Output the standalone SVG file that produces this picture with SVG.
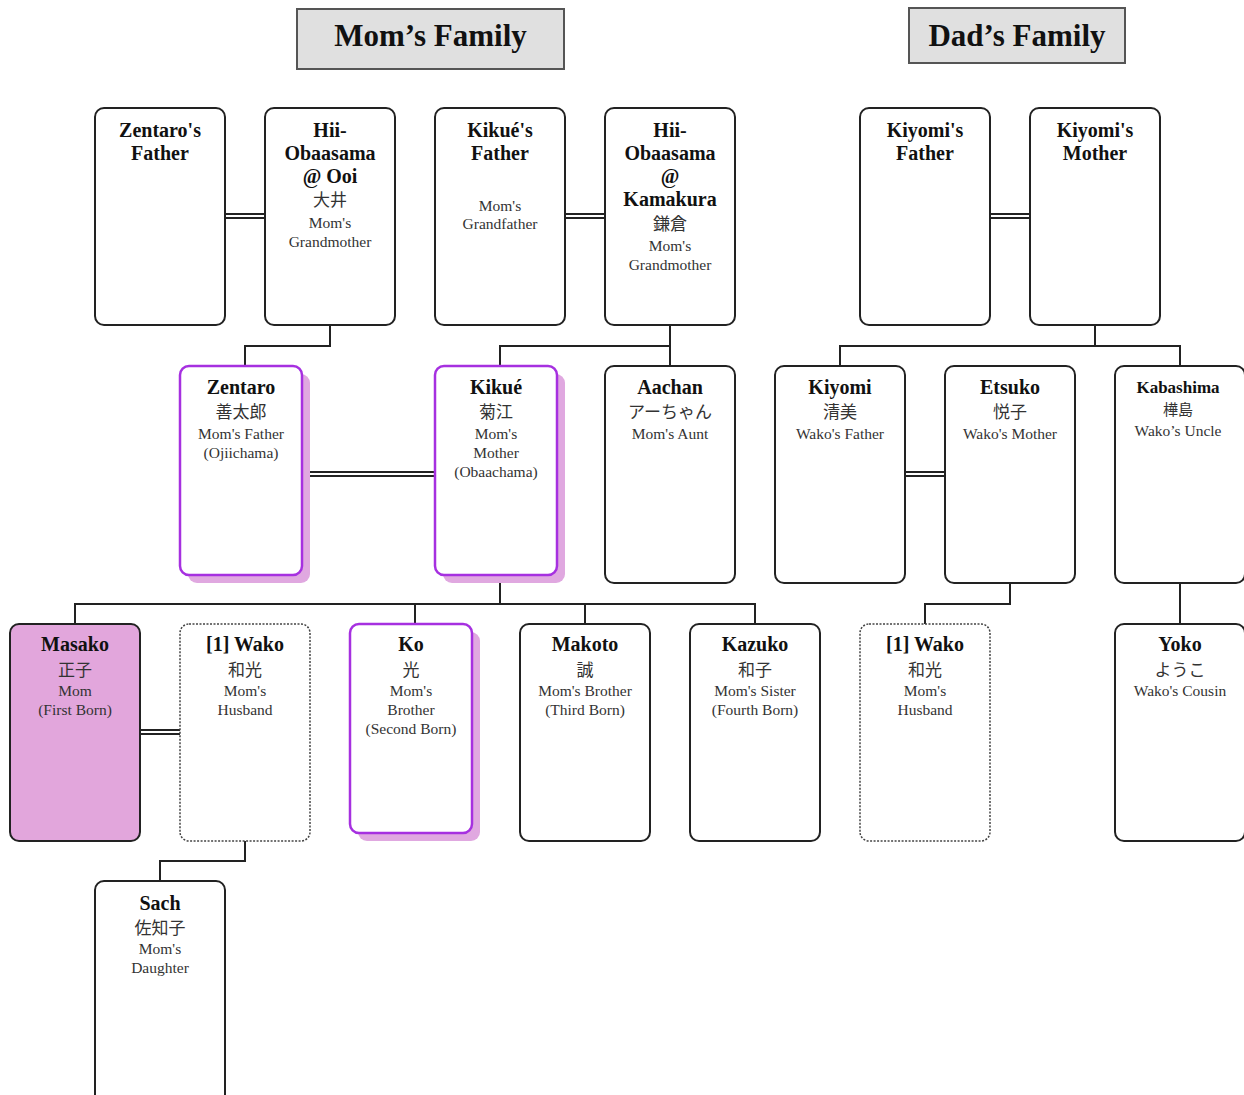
<svg xmlns="http://www.w3.org/2000/svg" width="1244" height="1095" viewBox="0 0 1244 1095">
<style>
.title{fill:#e0e0e0;stroke:#555;stroke-width:2}
.tt{font-family:"Liberation Serif","Noto Sans CJK JP",serif;font-weight:bold;font-size:31px;fill:#111;text-anchor:middle}
.box{fill:#fff;stroke:#222;stroke-width:2}
.dot{fill:#fff;stroke:#444;stroke-width:1.5;stroke-dasharray:2 1.5}
.pur{fill:#fff;stroke:#a630e0;stroke-width:2.5}
.sh{fill:#e0a8e0}
.mas{fill:#e2a6dc;stroke:#222;stroke-width:2}
.n{font-family:"Liberation Serif","Noto Sans CJK JP",serif;font-weight:bold;font-size:20px;fill:#111;text-anchor:middle}
.k{font-family:"Noto Sans CJK JP",serif;font-size:17px;fill:#333;text-anchor:middle}
.s{font-family:"Liberation Serif","Noto Sans CJK JP",serif;font-size:15.5px;fill:#333;text-anchor:middle}
.ln{fill:none;stroke:#222;stroke-width:2}
.dbl{fill:none;stroke:#222;stroke-width:6}
.dbw{fill:none;stroke:#fff;stroke-width:2}
</style>
<g id="connectors">
<path class="ln" d="M330 325V346H245V366"/>
<path class="ln" d="M670 325V366M670 346H500V366"/>
<path class="ln" d="M500 575V604M75 624V604H755V624M415 604V624M585 604V624"/>
<path class="ln" d="M245 841V861H160V881"/>
<path class="ln" d="M1095 325V346M840 366V346H1180V366"/>
<path class="ln" d="M1010 583V604H925V624"/>
<path class="ln" d="M1180 583V624"/>
<path class="dbl" d="M225 216H265M565 216H605M990 216H1030M310 474H436M905 474H945M140 732H180"/>
<path class="dbw" d="M225 216H265M565 216H605M990 216H1030M310 474H436M905 474H945M140 732H180"/>
</g>
<g id="title-mom"><rect class="title" x="297" y="9" width="267" height="60"/><text class="tt" x="430.5" y="46">Mom’s Family</text></g>
<g id="title-dad"><rect class="title" x="909" y="8" width="216" height="55"/><text class="tt" x="1017" y="46">Dad’s Family</text></g>

<g id="zentaros-father"><rect class="box" x="95" y="108" width="130" height="217" rx="9"/>
<text class="n" x="160" y="137">Zentaro's</text><text class="n" x="160" y="160">Father</text></g>
<g id="hii-ooi"><rect class="box" x="265" y="108" width="130" height="217" rx="9"/>
<text class="n" x="330" y="137">Hii-</text><text class="n" x="330" y="160">Obaasama</text><text class="n" x="330" y="183">@ Ooi</text>
<text class="k" x="330" y="206">大井</text><text class="s" x="330" y="228">Mom's</text><text class="s" x="330" y="247">Grandmother</text></g>
<g id="kikues-father"><rect class="box" x="435" y="108" width="130" height="217" rx="9"/>
<text class="n" x="500" y="137">Kikué's</text><text class="n" x="500" y="160">Father</text>
<text class="s" x="500" y="211">Mom's</text><text class="s" x="500" y="229">Grandfather</text></g>
<g id="hii-kamakura"><rect class="box" x="605" y="108" width="130" height="217" rx="9"/>
<text class="n" x="670" y="137">Hii-</text><text class="n" x="670" y="160">Obaasama</text><text class="n" x="670" y="183">@</text><text class="n" x="670" y="206">Kamakura</text>
<text class="k" x="670" y="230">鎌倉</text><text class="s" x="670" y="251">Mom's</text><text class="s" x="670" y="270">Grandmother</text></g>
<g id="kiyomis-father"><rect class="box" x="860" y="108" width="130" height="217" rx="9"/>
<text class="n" x="925" y="137">Kiyomi's</text><text class="n" x="925" y="160">Father</text></g>
<g id="kiyomis-mother"><rect class="box" x="1030" y="108" width="130" height="217" rx="9"/>
<text class="n" x="1095" y="137">Kiyomi's</text><text class="n" x="1095" y="160">Mother</text></g>

<g id="zentaro"><rect class="sh" x="188" y="374" width="122" height="209" rx="9"/><rect class="pur" x="180" y="366" width="122" height="209" rx="9"/>
<text class="n" x="241" y="394">Zentaro</text><text class="k" x="241" y="418">善太郎</text><text class="s" x="241" y="439">Mom's Father</text><text class="s" x="241" y="458">(Ojiichama)</text></g>
<g id="kikue"><rect class="sh" x="443" y="374" width="122" height="209" rx="9"/><rect class="pur" x="435" y="366" width="122" height="209" rx="9"/>
<text class="n" x="496" y="394">Kikué</text><text class="k" x="496" y="418">菊江</text><text class="s" x="496" y="439">Mom's</text><text class="s" x="496" y="458">Mother</text><text class="s" x="496" y="477">(Obaachama)</text></g>
<g id="aachan"><rect class="box" x="605" y="366" width="130" height="217" rx="9"/>
<text class="n" x="670" y="394">Aachan</text><text class="k" x="670" y="418">アーちゃん</text><text class="s" x="670" y="439">Mom's Aunt</text></g>
<g id="kiyomi"><rect class="box" x="775" y="366" width="130" height="217" rx="9"/>
<text class="n" x="840" y="394">Kiyomi</text><text class="k" x="840" y="418">清美</text><text class="s" x="840" y="439">Wako's Father</text></g>
<g id="etsuko"><rect class="box" x="945" y="366" width="130" height="217" rx="9"/>
<text class="n" x="1010" y="394">Etsuko</text><text class="k" x="1010" y="418">悦子</text><text class="s" x="1010" y="439">Wako's Mother</text></g>
<g id="kabashima"><rect class="box" x="1115" y="366" width="130" height="217" rx="9"/>
<text class="n" x="1178" y="393" style="font-size:17px">Kabashima</text><text class="k" x="1178" y="415" style="font-size:15px">樺島</text><text class="s" x="1178" y="436">Wako’s Uncle</text></g>

<g id="masako"><rect class="mas" x="10" y="624" width="130" height="217" rx="9"/>
<text class="n" x="75" y="651">Masako</text><text class="k" x="75" y="676">正子</text><text class="s" x="75" y="696">Mom</text><text class="s" x="75" y="715">(First Born)</text></g>
<g id="wako-mom"><rect class="dot" x="180" y="624" width="130" height="217" rx="9"/>
<text class="n" x="245" y="651">[1] Wako</text><text class="k" x="245" y="676">和光</text><text class="s" x="245" y="696">Mom's</text><text class="s" x="245" y="715">Husband</text></g>
<g id="ko"><rect class="sh" x="358" y="632" width="122" height="209" rx="9"/><rect class="pur" x="350" y="624" width="122" height="209" rx="9"/>
<text class="n" x="411" y="651">Ko</text><text class="k" x="411" y="676">光</text><text class="s" x="411" y="696">Mom's</text><text class="s" x="411" y="715">Brother</text><text class="s" x="411" y="734">(Second Born)</text></g>
<g id="makoto"><rect class="box" x="520" y="624" width="130" height="217" rx="9"/>
<text class="n" x="585" y="651">Makoto</text><text class="k" x="585" y="676">誠</text><text class="s" x="585" y="696">Mom's Brother</text><text class="s" x="585" y="715">(Third Born)</text></g>
<g id="kazuko"><rect class="box" x="690" y="624" width="130" height="217" rx="9"/>
<text class="n" x="755" y="651">Kazuko</text><text class="k" x="755" y="676">和子</text><text class="s" x="755" y="696">Mom's Sister</text><text class="s" x="755" y="715">(Fourth Born)</text></g>
<g id="wako-dad"><rect class="dot" x="860" y="624" width="130" height="217" rx="9"/>
<text class="n" x="925" y="651">[1] Wako</text><text class="k" x="925" y="676">和光</text><text class="s" x="925" y="696">Mom's</text><text class="s" x="925" y="715">Husband</text></g>
<g id="yoko"><rect class="box" x="1115" y="624" width="130" height="217" rx="9"/>
<text class="n" x="1180" y="651">Yoko</text><text class="k" x="1180" y="676">ようこ</text><text class="s" x="1180" y="696">Wako's Cousin</text></g>

<g id="sach"><rect class="box" x="95" y="881" width="130" height="230" rx="9"/>
<text class="n" x="160" y="910">Sach</text><text class="k" x="160" y="934">佐知子</text><text class="s" x="160" y="954">Mom's</text><text class="s" x="160" y="973">Daughter</text></g>
</svg>
